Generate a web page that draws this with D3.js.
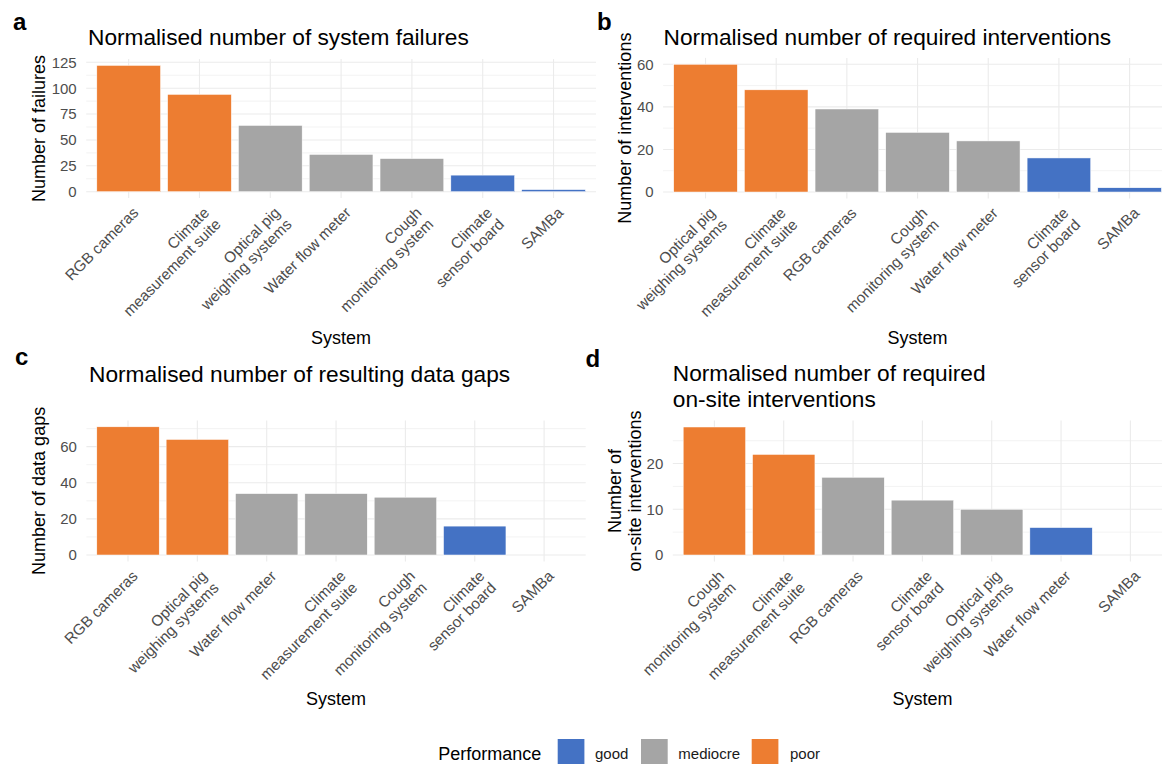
<!DOCTYPE html>
<html><head><meta charset="utf-8">
<script src="https://cdn.jsdelivr.net/npm/d3@7"></script>
<style>
html,body{margin:0;padding:0;background:#fff;}
svg{display:block;font-family:"Liberation Sans",Arial,sans-serif;}
</style></head>
<body>
<svg id="chart" width="1162" height="764"></svg>
<script>
// ---- data ----
const categoriesA = ["RGB cameras","Climate\nmeasurement suite","Optical pig\nweighing systems","Water flow meter","Cough\nmonitoring system","Climate\nsensor board","SAMBa"];
const valuesA = [122, 94, 64, 36, 32, 16, 2];
const performanceA = ["poor","poor","mediocre","mediocre","mediocre","good","good"];

const categoriesB = ["Optical pig\nweighing systems","Climate\nmeasurement suite","RGB cameras","Cough\nmonitoring system","Water flow meter","Climate\nsensor board","SAMBa"];
const valuesB = [60, 48, 39, 28, 24, 16, 2];
const performanceB = ["poor","poor","mediocre","mediocre","mediocre","good","good"];

const categoriesC = ["RGB cameras","Optical pig\nweighing systems","Water flow meter","Climate\nmeasurement suite","Cough\nmonitoring system","Climate\nsensor board","SAMBa"];
const valuesC = [71, 64, 34, 34, 32, 16, 0];
const performanceC = ["poor","poor","mediocre","mediocre","mediocre","good","good"];

const categoriesD = ["Cough\nmonitoring system","Climate\nmeasurement suite","RGB cameras","Climate\nsensor board","Optical pig\nweighing systems","Water flow meter","SAMBa"];
const valuesD = [28, 22, 17, 12, 10, 6, 0];
const performanceD = ["poor","poor","mediocre","mediocre","mediocre","good","good"];

const ticksA = [0, 25, 50, 75, 100, 125];
const ticksB = [0, 20, 40, 60];
const ticksC = [0, 20, 40, 60];
const ticksD = [0, 10, 20];

const performanceLevels = ["good","mediocre","poor"];
const performanceColors = ["#4472C4","#A5A5A5","#ED7D31"];

// ---- layout ----
const svg = d3.select("#chart");
const color = d3.scaleOrdinal().domain(performanceLevels).range(performanceColors);

const panels = [
  {letter:"a", lx:13, ly:30, title:["Normalised number of system failures"], tx:88, ty:44.5,
   ytitle:["Number of failures"], ytx:[45],
   cats:categoriesA, vals:valuesA, perf:performanceA, ticks:ticksA,
   x0:86.2, x1:596, y0:59.1, y1:198, xtitleY:343.5},
  {letter:"b", lx:597, ly:30, title:["Normalised number of required interventions"], tx:663.5, ty:44.5,
   ytitle:["Number of interventions"], ytx:[631],
   cats:categoriesB, vals:valuesB, perf:performanceB, ticks:ticksB,
   x0:663.1, x1:1172, y0:57.9, y1:198.4, xtitleY:343.5},
  {letter:"c", lx:15, ly:365, title:["Normalised number of resulting data gaps"], tx:89, ty:382,
   ytitle:["Number of data gaps"], ytx:[45],
   cats:categoriesC, vals:valuesC, perf:performanceC, ticks:ticksC,
   x0:86.4, x1:585.7, y0:420.4, y1:561.4, xtitleY:705},
  {letter:"d", lx:585.6, ly:366.7, title:["Normalised number of required","on-site interventions"], tx:672.8, ty:381,
   ytitle:["Number of","on-site interventions"], ytx:[620.5, 641],
   cats:categoriesD, vals:valuesD, perf:performanceD, ticks:ticksD,
   x0:672.8, x1:1172, y0:420.6, y1:561.4, xtitleY:705}
];

panels.forEach(p => {
  const g = svg.append("g");
  const x = d3.scaleBand().domain(p.cats).range([p.x0, p.x1]).paddingInner(0.1).paddingOuter(0.15);
  const vmax = d3.max(p.vals);
  const y = d3.scaleLinear().domain([-0.05*vmax, 1.05*vmax]).range([p.y1, p.y0]);

  // minor gridlines
  const step = p.ticks[1] - p.ticks[0];
  const minors = [];
  for (let v = p.ticks[0] - step/2; v <= 1.05*vmax; v += step) {
    if (v >= -0.05*vmax) minors.push(v);
  }
  g.selectAll(".minor").data(minors).join("line")
    .attr("x1", p.x0).attr("x2", p.x1)
    .attr("y1", d => y(d)).attr("y2", d => y(d))
    .attr("stroke", "#EBEBEB").attr("stroke-width", 0.6);
  // major horizontal
  g.selectAll(".major").data(p.ticks).join("line")
    .attr("x1", p.x0).attr("x2", p.x1)
    .attr("y1", d => y(d)).attr("y2", d => y(d))
    .attr("stroke", "#EBEBEB").attr("stroke-width", 1.1);
  // major vertical
  g.selectAll(".vmajor").data(p.cats).join("line")
    .attr("x1", d => x(d) + x.bandwidth()/2).attr("x2", d => x(d) + x.bandwidth()/2)
    .attr("y1", p.y0).attr("y2", p.y1)
    .attr("stroke", "#EBEBEB").attr("stroke-width", 1.1);

  // bars
  g.selectAll(".bar").data(p.cats.map((c,i) => ({c, v:p.vals[i], perf:p.perf[i]}))).join("rect")
    .attr("x", d => x(d.c)).attr("width", x.bandwidth())
    .attr("y", d => y(Math.max(d.v,0))).attr("height", d => Math.abs(y(0) - y(d.v)))
    .attr("fill", d => color(d.perf))
    .attr("stroke", d => d.v > 0 ? "#ffffff" : "none").attr("stroke-width", 0.5);

  // y axis labels
  g.selectAll(".ylab").data(p.ticks).join("text")
    .attr("x", p.x0 - 9.5).attr("y", d => y(d)).attr("dy", "0.36em")
    .attr("text-anchor", "end").attr("font-size", 15).attr("fill", "#4D4D4D")
    .text(d => d);

  // x axis labels
  const lab = g.selectAll(".xlab").data(p.cats).join("text")
    .attr("transform", d => `translate(${x(d) + x.bandwidth()/2 + 2},${p.y1 + 7}) rotate(-45)`)
    .attr("text-anchor", "end").attr("font-size", 15.3).attr("fill", "#4D4D4D");
  lab.each(function(d) {
    const lines = d.split("\n");
    const t = d3.select(this);
    lines.forEach((ln, i) => {
      t.append("tspan").attr("x", 0).attr("dy", i === 0 ? "0.8em" : "1.08em").text(ln);
    });
  });

  // x title
  g.append("text").attr("x", (p.x0 + p.x1)/2).attr("y", p.xtitleY)
    .attr("text-anchor", "middle").attr("font-size", 18).attr("fill", "#000").text("System");

  // y title
  const ym = (p.y0 + p.y1)/2;
  p.ytitle.forEach((t, i) => {
    g.append("text").attr("transform", `translate(${p.ytx[i]},${ym}) rotate(-90)`)
      .attr("text-anchor", "middle").attr("font-size", 18).attr("fill", "#000").text(t);
  });

  // title (one text element per line)
  p.title.forEach((t, i) => {
    g.append("text").attr("x", p.tx).attr("y", p.ty + i*25.5)
      .attr("font-size", 22.7).attr("fill", "#000").text(t);
  });

  // panel letter
  g.append("text").attr("x", p.lx).attr("y", p.ly)
    .attr("font-size", 24).attr("font-weight", "bold").attr("fill", "#000").text(p.letter);
});

// ---- legend ----
const lg = svg.append("g");
lg.append("text").attr("x", 438.3).attr("y", 759.5).attr("font-size", 18).attr("fill", "#000").text("Performance");
const keyX = [557.7, 641, 751.7];
const labX = [595, 678.3, 790];
lg.selectAll(".key").data(performanceLevels).join("rect")
  .attr("x", (d,i) => keyX[i]).attr("y", 739).attr("width", 26.7).attr("height", 26.7)
  .attr("fill", d => color(d));
lg.selectAll(".klab").data(performanceLevels).join("text")
  .attr("x", (d,i) => labX[i]).attr("y", 758.5).attr("font-size", 15).attr("fill", "#1A1A1A")
  .text(d => d);
</script>
</body></html>
